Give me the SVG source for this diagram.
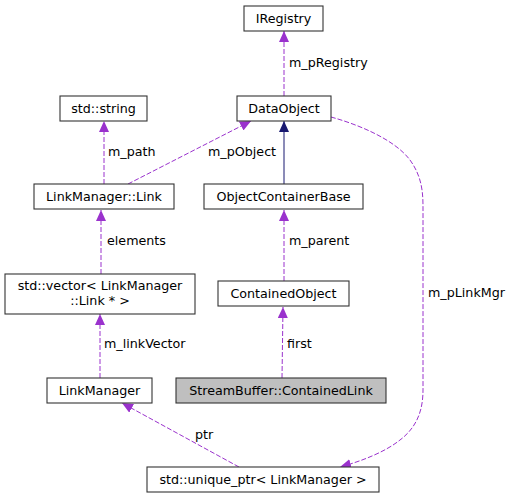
<svg xmlns="http://www.w3.org/2000/svg" width="513" height="499" viewBox="0 0 513 499">
<style>
text{font-family:"DejaVu Sans","Liberation Sans",sans-serif;font-size:12.7px;fill:#000}
.n rect{fill:#fff;stroke:#333;stroke-width:1.1}
.n text{text-anchor:middle}
.e{fill:none;stroke:#9a32cd;stroke-width:1;stroke-dasharray:5,2}
.inh{fill:none;stroke:#191970;stroke-width:1}
</style>
<defs>
<marker id="ap" viewBox="0 0 11 10" refX="11" refY="5" markerWidth="11" markerHeight="10" markerUnits="userSpaceOnUse" orient="auto"><path d="M0,0 L11,5 L0,10 z" fill="#9a32cd"/></marker>
<marker id="an" viewBox="0 0 11 10" refX="11" refY="5" markerWidth="11" markerHeight="10" markerUnits="userSpaceOnUse" orient="auto"><path d="M0,0 L11,5 L0,10 z" fill="#191970"/></marker>
</defs>
<rect width="513" height="499" fill="#fff"/>
<g id="edges">
<path class="e" d="M284,96 L284,31" marker-end="url(#ap)"/>
<text x="289" y="67">m_pRegistry</text>
<path class="e" d="M104,184 L104,121" marker-end="url(#ap)"/>
<text x="108" y="156">m_path</text>
<path class="e" d="M128,184 L251,121" marker-end="url(#ap)"/>
<text x="208" y="156">m_pObject</text>
<path class="inh" d="M284,184 L284,121" marker-end="url(#an)"/>
<path class="e" d="M101,274 L101,210" marker-end="url(#ap)"/>
<text x="107" y="245">elements</text>
<path class="e" d="M284,281 L284,210" marker-end="url(#ap)"/>
<text x="289" y="245">m_parent</text>
<path class="e" d="M100,378 L100,314" marker-end="url(#ap)"/>
<text x="104" y="348">m_linkVector</text>
<path class="e" d="M282,378 L283,307" marker-end="url(#ap)"/>
<text x="287" y="348">first</text>
<path class="e" d="M239,467 L122,403" marker-end="url(#ap)"/>
<text x="195" y="439">ptr</text>
<path class="e" d="M331,117 C360,125 395,140 410,160 C423,178 423,195 423,210 L423,390 C423,405 420,425 400,440 C385,452 362,461 340,467" marker-end="url(#ap)"/>
<text x="428" y="297">m_pLinkMgr</text>
</g>
<g id="IRegistry" class="n"><rect x="244" y="6" width="79" height="25"/><text x="283.5" y="23">IRegistry</text></g>
<g id="DataObject" class="n"><rect x="237" y="96" width="94" height="25"/><text x="284" y="113">DataObject</text></g>
<g id="stdstring" class="n"><rect x="60" y="96" width="87" height="25"/><text x="103.5" y="113">std::string</text></g>
<g id="Link" class="n"><rect x="34" y="184" width="140" height="25"/><text x="104" y="201">LinkManager::Link</text></g>
<g id="ObjectContainerBase" class="n"><rect x="204" y="184" width="159" height="25"/><text x="283.5" y="201">ObjectContainerBase</text></g>
<g id="vector" class="n"><rect x="5" y="274" width="190" height="40"/><text x="100" y="290">std::vector&lt; LinkManager</text><text x="100" y="305">::Link * &gt;</text></g>
<g id="ContainedObject" class="n"><rect x="218" y="281" width="131" height="25"/><text x="283.5" y="298">ContainedObject</text></g>
<g id="LinkManager" class="n"><rect x="47" y="378" width="105" height="25"/><text x="99.5" y="395">LinkManager</text></g>
<g id="ContainedLink" class="n"><rect x="176" y="378" width="210" height="25" style="fill:#bfbfbf"/><text x="281" y="395">StreamBuffer::ContainedLink</text></g>
<g id="uniqueptr" class="n"><rect x="147" y="467" width="232" height="25"/><text x="263" y="484">std::unique_ptr&lt; LinkManager &gt;</text></g>
</svg>
